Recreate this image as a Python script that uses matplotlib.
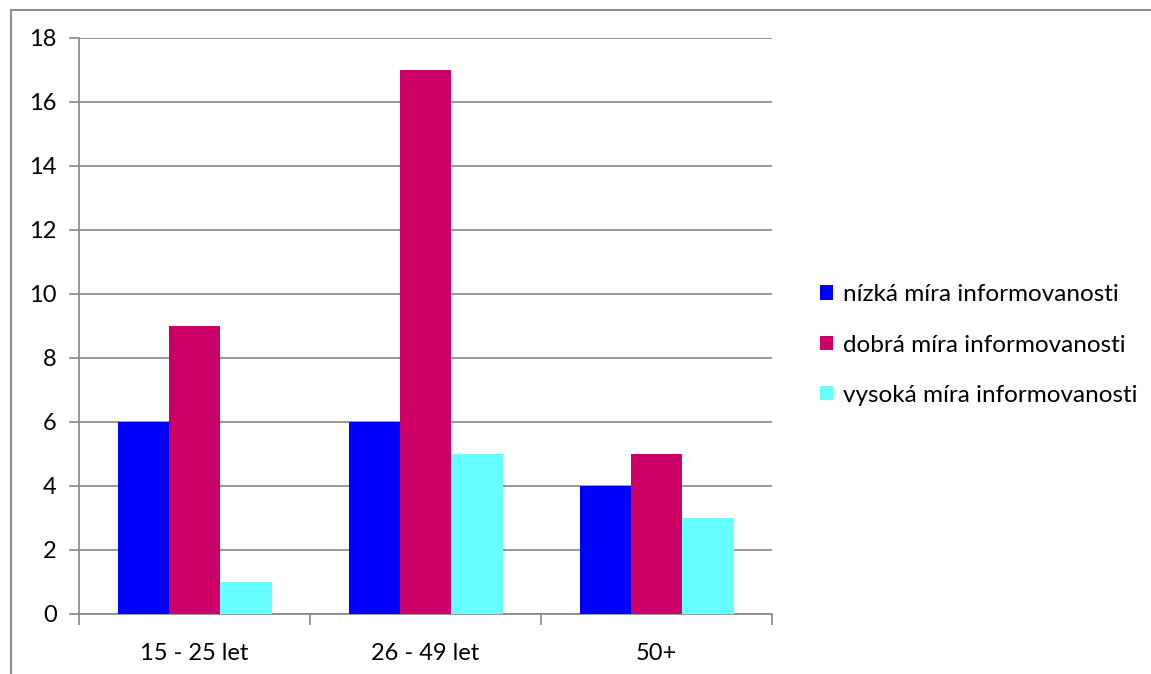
import matplotlib.pyplot as plt
import numpy as np
from matplotlib.lines import Line2D

categories = ["15 - 25 let", "26 - 49 let", "50+"]
series_names = ["nízká míra informovanosti", "dobrá míra informovanosti", "vysoká míra informovanosti"]
nizka = [6, 6, 4]
dobra = [9, 17, 5]
vysoka = [1, 5, 3]
y_ticks = [0, 2, 4, 6, 8, 10, 12, 14, 16, 18]

colors = ["#0000FF", "#CC0066", "#66FFFF"]
grid_color = "#868686"

plt.rcParams['font.family'] = ['Lato', 'DejaVu Sans']

W, H = 1151, 674
fig = plt.figure(figsize=(W / 100, H / 100), dpi=100)

# outer chart frame: only top and left edges fall inside the canvas
fx, fy = 10.5 / W, 1 - 9.5 / H
fig.add_artist(Line2D([fx, 1.0], [fy, fy], transform=fig.transFigure,
                      color="#8c8c8c", linewidth=1.5))
fig.add_artist(Line2D([fx, fx], [0.0, fy], transform=fig.transFigure,
                      color="#8c8c8c", linewidth=1.5))

ax = fig.add_axes([79 / W, 1 - 614 / H, (772 - 79) / W, (614 - 38) / H])

x = np.arange(len(categories))
bw = 1 / 4.5
for i, (vals, name) in enumerate(zip([nizka, dobra, vysoka], series_names)):
    ax.bar(x + (i - 1) * bw, vals, width=bw, color=colors[i], label=name, zorder=3)

ax.set_xlim(-0.5, len(categories) - 0.5)
ax.set_ylim(0, 18)
ax.set_yticks(y_ticks)
ax.set_yticklabels([str(v) for v in y_ticks])
ax.yaxis.grid(True, color=grid_color, linewidth=1.2, zorder=0)

ax.set_xticks(x)
ax.set_xticklabels(categories)
ax.set_xticks(np.arange(len(categories) + 1) - 0.5, minor=True)
ax.tick_params(axis='x', which='major', length=0, pad=21, labelsize=17)
ax.tick_params(axis='x', which='minor', length=8, width=1.2, color=grid_color)
ax.tick_params(axis='y', length=7, width=1.2, color=grid_color, pad=9, labelsize=17)

for s in ["top", "right"]:
    ax.spines[s].set_visible(False)
for s in ["left", "bottom"]:
    ax.spines[s].set_color(grid_color)
    ax.spines[s].set_linewidth(1.2)

ax.legend(loc="center left", bbox_to_anchor=(798 / W, 1 - 345 / H), bbox_transform=fig.transFigure,
          frameon=False, fontsize=17.5, handlelength=0.55, handleheight=0.55,
          handletextpad=0.4, labelspacing=1.2)

fig.savefig("out.png", dpi=100)
